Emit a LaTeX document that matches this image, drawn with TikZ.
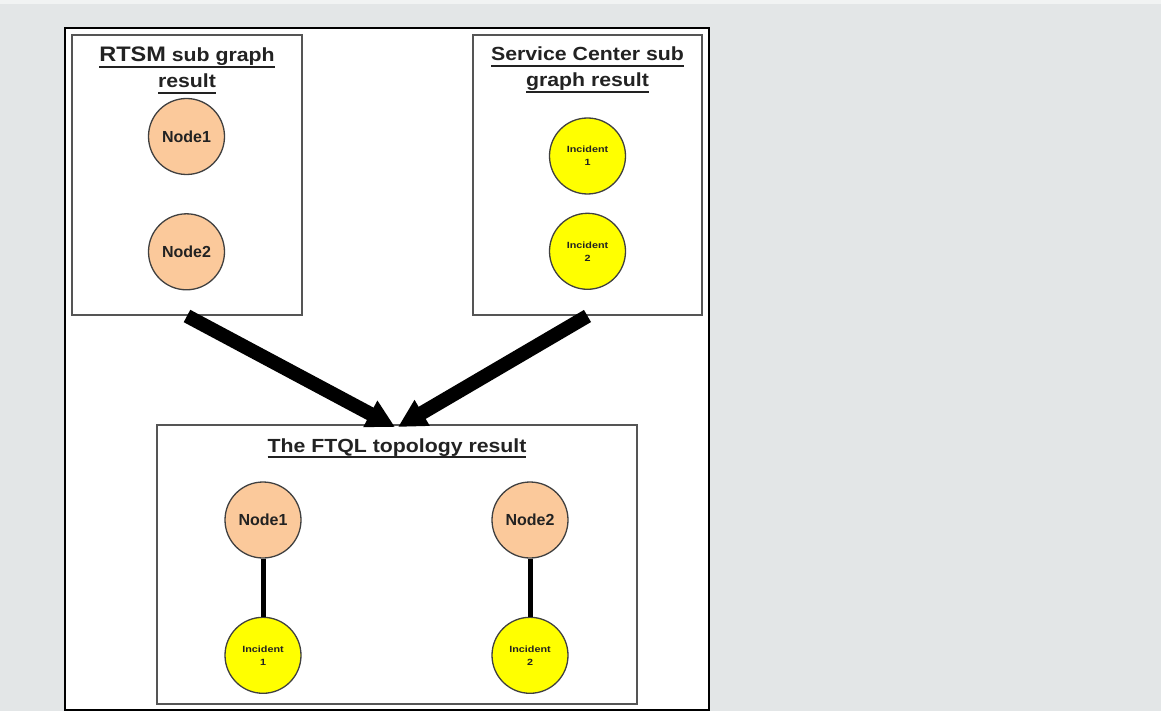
\documentclass[tikz,border=0pt]{standalone}
\usepackage{fontspec}
\setmainfont{Liberation Sans}
\newfontfamily\titlefont[FakeStretch=1.12]{Liberation Sans}
\newfontfamily\labelfont[FakeStretch=1.2]{Liberation Sans}
\usetikzlibrary{arrows.meta, positioning, calc}
\definecolor{pagegray}{HTML}{E3E6E7}
\definecolor{pagetop}{HTML}{F1F3F3}
\definecolor{nodepeach}{HTML}{FBC99B}
\definecolor{incyellow}{HTML}{FFFF00}
\definecolor{boxgray}{HTML}{555555}
\definecolor{inktext}{HTML}{222222}
\newcommand{\undertext}[1]{\setbox0\hbox{#1}\rlap{\rule[-6pt]{\wd0}{2.2pt}}\box0}

\begin{document}
\begin{tikzpicture}[
    x=1pt, y=-1pt,
    panel/.style={
        rectangle, draw=boxgray, line width=2pt, fill=white,
        minimum width=#1, minimum height=280pt, inner sep=0pt
    },
    title/.style={
        anchor=base, align=center, text=inktext,
        font=\titlefont\bfseries\fontsize{19}{26}\selectfont
    },
    rtsmnode/.style={
        circle, draw=black!75, line width=1.3pt, fill=nodepeach,
        minimum size=76pt, inner sep=0pt, text=inktext,
        font=\bfseries\fontsize{16}{18}\selectfont
    },
    incnode/.style={
        circle, draw=black!75, line width=1.3pt, fill=incyellow,
        minimum size=76pt, inner sep=0pt, align=center, text=inktext,
        font=\labelfont\bfseries\fontsize{9}{13}\selectfont
    },
    flow/.style={-{Triangle[length=28pt,width=28pt]}, line width=14pt, color=black},
    link/.style={line width=5pt, color=black}
]

% Page
\fill[pagegray] (0,0) rectangle (1161,711);
\fill[pagetop] (0,0) rectangle (1161,4);
\useasboundingbox (0,0) rectangle (1161,711);
\draw[line width=2pt, fill=white] (65,28) rectangle (709,710);

% Sub graph boxes
\node[panel=230pt] (rtsm) at (187,175) {};
\node[panel=229pt] (serv) at (587.5,175) {};
\node[panel=480pt, minimum height=279pt] (ftql) at (397,564.5) {};

% Titles (base = last line)
\node[title] (rtsmtitle) at ($(rtsm.north)+(0,54)$)
    {\undertext{{\fontsize{21}{26}\selectfont RTSM} sub graph}\\\undertext{result}};
\node[title] (servtitle) at ($(serv.north)+(0,53)$)
    {\undertext{Service Center sub}\\\undertext{graph result}};
\node[title] (ftqltitle) at ($(ftql.north)+(0,28)$) {\undertext{The FTQL topology result}};

% RTSM nodes
\node[rtsmnode] (rnode1) at (186.5,136.5) {Node1};
\node[rtsmnode, below=38pt of rnode1] (rnode2) {Node2};

% Service Center incidents
\node[incnode] (sinc1) at (587.5,156) {Incident\\1};
\node[incnode, below=18pt of sinc1] (sinc2) {Incident\\2};

% FTQL result
\node[rtsmnode] (fnode1) at (263,520) {Node1};
\node[incnode, below=58pt of fnode1] (finc1) {Incident\\1};
\node[rtsmnode] (fnode2) at (530,520) {Node2};
\node[incnode, below=58pt of fnode2] (finc2) {Incident\\2};

% Connectors
\draw[link] (fnode1) -- (finc1);
\draw[link] (fnode2) -- (finc2);

% Merge arrows
\draw[flow] (rtsm.south) -- ([xshift=-2pt,yshift=-3pt]ftql.north);
\draw[flow] (serv.south) -- ([xshift=1pt,yshift=-3pt]ftql.north);

\end{tikzpicture}
\end{document}
